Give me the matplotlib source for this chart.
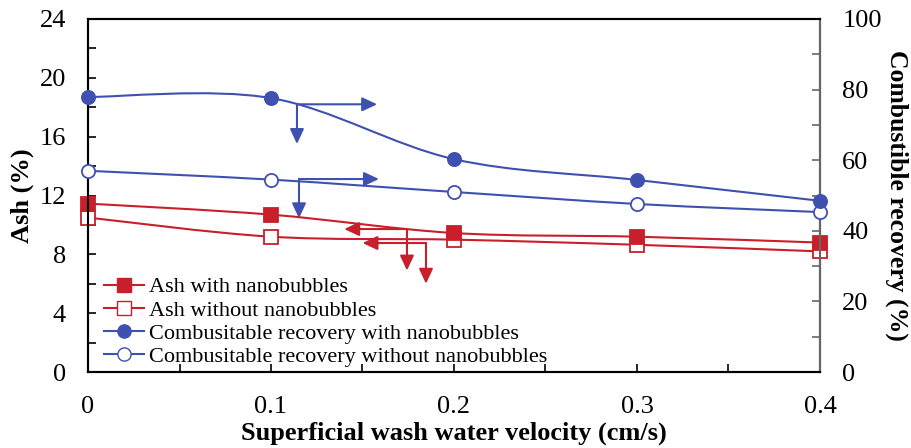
import numpy as np
import matplotlib.pyplot as plt
from matplotlib.path import Path
from matplotlib.patches import PathPatch
from matplotlib.lines import Line2D
from matplotlib.ticker import MultipleLocator

plt.rcParams['font.family'] = ['Liberation Serif', 'DejaVu Serif']

# data
velocity = [0, 0.1, 0.2, 0.3, 0.4]
ash_with = [11.45, 10.7, 9.45, 9.2, 8.8]
ash_without = [10.5, 9.2, 9.0, 8.65, 8.2]
rec_with = [77.9, 77.6, 60.3, 54.4, 48.5]
rec_without = [57.0, 54.5, 51.0, 47.6, 45.3]

RED = '#C8202A'
BLUE = '#3F51B0'


def smooth_path(x, y):
    # excel-style smoothed line: bezier through the points
    pts = np.column_stack([x, y])
    n = len(pts)
    verts = [pts[0]]
    codes = [Path.MOVETO]
    for i in range(n - 1):
        p0 = pts[i - 1] if i > 0 else pts[i]
        p1, p2 = pts[i], pts[i + 1]
        p3 = pts[i + 2] if i + 2 < n else pts[i + 1]
        verts += [p1 + (p2 - p0) / 6, p2 - (p3 - p1) / 6, p2]
        codes += [Path.CURVE4] * 3
    return Path(verts, codes)


def add_series(axis, x, y, color, marker, filled, z):
    axis.add_patch(PathPatch(smooth_path(x, y), fill=False, edgecolor=color, lw=1.5, zorder=z))
    axis.plot(x, y, ls='none', marker=marker, ms=9.5,
              mfc=color if filled else 'white', mec=color, mew=1.3, clip_on=False, zorder=z + 0.5)


fig = plt.figure(figsize=(9.11, 4.48), dpi=100)
ax = fig.add_axes([0.0966, 0.1696, 0.8035, 0.788])
ax2 = ax.twinx()

# "without" series first so the filled markers sit on top
add_series(ax, velocity, ash_without, RED, 's', False, 3)
add_series(ax, velocity, ash_with, RED, 's', True, 5)
add_series(ax2, velocity, rec_without, BLUE, 'o', False, 3)
add_series(ax2, velocity, rec_with, BLUE, 'o', True, 5)

# arrows pointing to the axes
def elbow(axis, x0, y0, xh, yv, color):
    kw = dict(arrowstyle='-|>,head_length=0.9,head_width=0.42', color=color, lw=1.5,
              shrinkA=0, shrinkB=0)
    axis.annotate('', xy=(xh, y0), xytext=(x0, y0), arrowprops=kw)
    axis.annotate('', xy=(x0, yv), xytext=(x0, y0), arrowprops=kw)

elbow(ax, 0.1142, 18.2, 0.158, 15.5, BLUE)
elbow(ax, 0.1153, 13.12, 0.159, 10.45, BLUE)
elbow(ax, 0.1743, 9.72, 0.140, 6.9, RED)
elbow(ax, 0.1847, 8.77, 0.150, 6.0, RED)

ax.set_xlim(0, 0.4)
ax.set_ylim(0, 24)
ax2.set_ylim(0, 100)
ax.xaxis.set_minor_locator(MultipleLocator(0.05))
ax.yaxis.set_major_locator(MultipleLocator(4))
ax.yaxis.set_minor_locator(MultipleLocator(2))
ax2.yaxis.set_major_locator(MultipleLocator(20))
ax2.yaxis.set_minor_locator(MultipleLocator(10))
ax.set_xticks([0, 0.1, 0.2, 0.3, 0.4], ['0', '0.1', '0.2', '0.3', '0.4'])

ax.tick_params(which='both', direction='in', labelsize=19, length=6, width=1.2, pad=16)
ax.tick_params(axis='x', which='both', pad=17)
ax2.tick_params(which='both', direction='in', labelsize=19, length=6, width=1.2,
                color='#666666', pad=16)
for s in ax.spines.values():
    s.set_linewidth(1.5)
for s in ax2.spines.values():
    s.set_linewidth(1.5)
ax2.spines['right'].set_color('#666666')

ax.set_xlabel('Superficial wash water velocity (cm/s)', fontsize=19, fontweight='bold', labelpad=3)
ax.set_ylabel('Ash (%)', fontsize=19, fontweight='bold', labelpad=4)
ax2.set_ylabel('Combustible recovery (%)', fontsize=18.5, fontweight='bold',
               rotation=270, labelpad=19)

handles = [
    Line2D([], [], color=RED, lw=1.5, marker='s', ms=9.5, mfc=RED, mec=RED),
    Line2D([], [], color=RED, lw=1.5, marker='s', ms=9.5, mfc='white', mec=RED),
    Line2D([], [], color=BLUE, lw=1.5, marker='o', ms=9.5, mfc=BLUE, mec=BLUE),
    Line2D([], [], color=BLUE, lw=1.5, marker='o', ms=9.5, mfc='white', mec=BLUE),
]
labels = ['Ash with nanobubbles', 'Ash without nanobubbles',
          'Combusitable recovery with nanobubbles', 'Combusitable recovery without nanobubbles']
ax2.legend(handles, labels, loc='lower left', bbox_to_anchor=(0.0, -0.03), frameon=False,
           fontsize=16, labelspacing=0.12, handlelength=1.8, handletextpad=0.25,
           borderaxespad=0.3)

fig.savefig('out.png', dpi=100)
